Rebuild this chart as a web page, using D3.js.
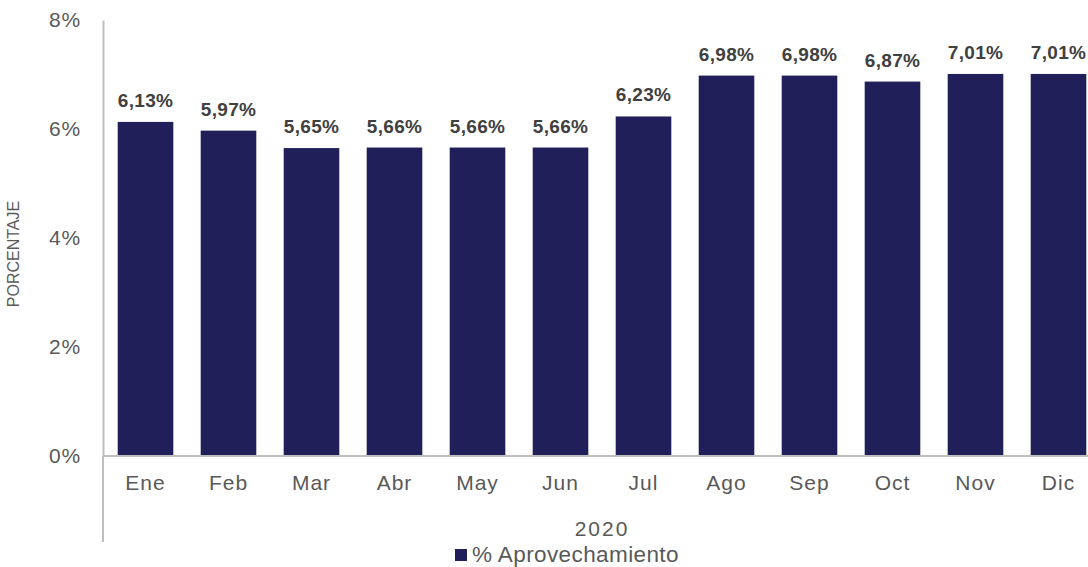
<!DOCTYPE html>
<html lang="es">
<head>
<meta charset="UTF-8">
<title>% Aprovechamiento 2020</title>
<script src="https://cdn.jsdelivr.net/npm/d3@7"></script>
<style>
  body { margin: 0; background: #fff; }
  text { font-family: "Liberation Sans", Arial, sans-serif; }
</style>
</head>
<body>
<div id="chart"></div>
<script>
// data
var months = ["Ene", "Feb", "Mar", "Abr", "May", "Jun", "Jul", "Ago", "Sep", "Oct", "Nov", "Dic"];
var values = [6.13, 5.97, 5.65, 5.66, 5.66, 5.66, 6.23, 6.98, 6.98, 6.87, 7.01, 7.01];
var labels = ["6,13%", "5,97%", "5,65%", "5,66%", "5,66%", "5,66%", "6,23%", "6,98%", "6,98%", "6,87%", "7,01%", "7,01%"];
var yTicks = [0, 2, 4, 6, 8];
var year = "2020";
var seriesName = "% Aprovechamiento";

var W = 1088, H = 567;
var plotLeft = 103, plotTop = 20, plotBottom = 456;

var svg = d3.select("#chart").append("svg")
    .attr("width", W)
    .attr("height", H);

var x = d3.scaleBand()
    .domain(months)
    .range([104, 1100])
    .paddingInner(0.33)
    .paddingOuter(0.165);

var y = d3.scaleLinear()
    .domain([0, 8])
    .range([plotBottom, plotTop]);

// bars
svg.append("g")
    .selectAll("rect")
    .data(values)
    .enter()
    .append("rect")
        .attr("x", function (d, i) { return x(months[i]); })
        .attr("y", function (d) { return y(d); })
        .attr("width", x.bandwidth())
        .attr("height", function (d) { return y(0) - y(d); })
        .attr("fill", "#201f5a");

// value labels
svg.append("g")
    .selectAll("text")
    .data(values)
    .enter()
    .append("text")
        .attr("x", function (d, i) { return x(months[i]) + x.bandwidth() / 2; })
        .attr("y", function (d) { return y(d) - 15; })
        .attr("text-anchor", "middle")
        .attr("font-size", 19)
        .attr("font-weight", "bold")
        .attr("fill", "#404040")
        .style("letter-spacing", "0.3px")
        .text(function (d, i) { return labels[i]; });

// y axis
var yAxis = svg.append("g")
    .attr("transform", "translate(" + plotLeft + ",0)")
    .call(d3.axisLeft(y).tickValues(yTicks).tickSize(0).tickPadding(22)
        .tickFormat(function (d) { return d + "%"; }));
yAxis.select(".domain").attr("stroke", "#bfbfbf").attr("stroke-width", 2);
yAxis.selectAll("text")
    .attr("font-size", 21)
    .attr("fill", "#595959")
    .style("font-family", "Liberation Sans, Arial, sans-serif")
    .style("letter-spacing", "0.8px");

// x axis
var xAxis = svg.append("g")
    .attr("transform", "translate(0," + plotBottom + ")")
    .call(d3.axisBottom(x).tickSize(0).tickPadding(19));
xAxis.select(".domain").remove();
xAxis.selectAll("text")
    .attr("font-size", 21)
    .attr("fill", "#595959")
    .style("font-family", "Liberation Sans, Arial, sans-serif")
    .style("letter-spacing", "1px");

svg.append("line")
    .attr("x1", plotLeft).attr("x2", W)
    .attr("y1", plotBottom).attr("y2", plotBottom)
    .attr("stroke", "#bfbfbf").attr("stroke-width", 2);

// group separator below the axis
svg.append("line")
    .attr("x1", plotLeft).attr("x2", plotLeft)
    .attr("y1", plotBottom).attr("y2", 542)
    .attr("stroke", "#bfbfbf").attr("stroke-width", 2);

// year label
svg.append("text")
    .attr("x", (104 + 1100) / 2)
    .attr("y", 536)
    .attr("text-anchor", "middle")
    .attr("font-size", 21)
    .attr("fill", "#595959")
    .style("letter-spacing", "2px")
    .text(year);

// y title
svg.append("text")
    .attr("transform", "translate(19,254) rotate(-90)")
    .attr("text-anchor", "middle")
    .attr("font-size", 16)
    .attr("fill", "#595959")
    .text("PORCENTAJE");

// legend
svg.append("rect")
    .attr("x", 455).attr("y", 549)
    .attr("width", 12).attr("height", 12)
    .attr("fill", "#201f5a");
svg.append("text")
    .attr("x", 472).attr("y", 562)
    .attr("font-size", 22.5)
    .attr("fill", "#595959")
    .style("letter-spacing", "0.4px")
    .text(seriesName);
</script>
</body>
</html>
